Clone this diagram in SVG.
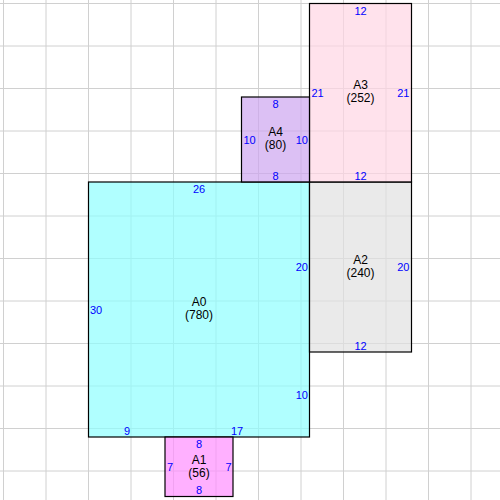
<svg xmlns="http://www.w3.org/2000/svg" width="500" height="500" viewBox="0 0 500 500">
<style>
.grid line{stroke:#d0d0d0;stroke-width:1}
.box{stroke:#000;stroke-width:1.2;fill-opacity:0.7}
.nm{font-family:"Liberation Sans",Arial,sans-serif;font-size:12px;fill:#000;text-anchor:middle}
.ed{font-family:"Liberation Sans",Arial,sans-serif;font-size:11px;fill:#0000ff}
.m{text-anchor:middle}.s{text-anchor:start}.e{text-anchor:end}
</style>
<rect width="500" height="500" fill="#fff"/>
<g class="grid">
<line x1="3.5" y1="0" x2="3.5" y2="500"/><line x1="46" y1="0" x2="46" y2="500"/><line x1="88.5" y1="0" x2="88.5" y2="500"/><line x1="131" y1="0" x2="131" y2="500"/><line x1="173.5" y1="0" x2="173.5" y2="500"/><line x1="216" y1="0" x2="216" y2="500"/><line x1="258.5" y1="0" x2="258.5" y2="500"/><line x1="301" y1="0" x2="301" y2="500"/><line x1="343.5" y1="0" x2="343.5" y2="500"/><line x1="386" y1="0" x2="386" y2="500"/><line x1="428.5" y1="0" x2="428.5" y2="500"/><line x1="471" y1="0" x2="471" y2="500"/>
<line y1="3.5" x1="0" y2="3.5" x2="500"/><line y1="46" x1="0" y2="46" x2="500"/><line y1="88.5" x1="0" y2="88.5" x2="500"/><line y1="131" x1="0" y2="131" x2="500"/><line y1="173.5" x1="0" y2="173.5" x2="500"/><line y1="216" x1="0" y2="216" x2="500"/><line y1="258.5" x1="0" y2="258.5" x2="500"/><line y1="301" x1="0" y2="301" x2="500"/><line y1="343.5" x1="0" y2="343.5" x2="500"/><line y1="386" x1="0" y2="386" x2="500"/><line y1="428.5" x1="0" y2="428.5" x2="500"/><line y1="471" x1="0" y2="471" x2="500"/>
</g>
<g id="A0">
<rect class="box" x="88.5" y="182" width="221" height="255" fill="#8effff"/>
<text class="nm" x="199" y="306">A0</text><text class="nm" x="199" y="319">(780)</text>
<text class="ed m" x="199" y="193">26</text>
<text class="ed s" x="90" y="314">30</text>
<text class="ed e" x="308" y="271">20</text>
<text class="ed e" x="308" y="398.5">10</text>
<text class="ed m" x="127" y="435">9</text>
<text class="ed m" x="237" y="435">17</text>
</g>
<g id="A1">
<rect class="box" x="165" y="437" width="68" height="59.5" fill="#ff8eff"/>
<text class="nm" x="199" y="463.5">A1</text><text class="nm" x="199" y="476.5">(56)</text>
<text class="ed m" x="199" y="447.5">8</text>
<text class="ed s" x="167" y="471">7</text>
<text class="ed e" x="231.5" y="471">7</text>
<text class="ed m" x="199" y="494">8</text>
</g>
<g id="A2">
<rect class="box" x="309.5" y="182" width="102" height="170" fill="#e1e1e1"/>
<text class="nm" x="360.5" y="263.5">A2</text><text class="nm" x="360.5" y="276.5">(240)</text>
<text class="ed e" x="409.5" y="271">20</text>
<text class="ed m" x="360.5" y="350">12</text>
</g>
<g id="A3">
<rect class="box" x="309.5" y="3.5" width="102" height="178.5" fill="#ffd6e4"/>
<text class="nm" x="360.5" y="89">A3</text><text class="nm" x="360.5" y="102">(252)</text>
<text class="ed m" x="360.5" y="14.5">12</text>
<text class="ed s" x="311.5" y="96.5">21</text>
<text class="ed e" x="409.5" y="96.5">21</text>
<text class="ed m" x="360.5" y="180">12</text>
</g>
<g id="A4">
<rect class="box" x="241.5" y="97" width="68" height="85" fill="#cda5ef"/>
<text class="nm" x="275.5" y="136">A4</text><text class="nm" x="275.5" y="149">(80)</text>
<text class="ed m" x="275.5" y="108">8</text>
<text class="ed s" x="243.5" y="143.5">10</text>
<text class="ed e" x="308" y="143.5">10</text>
<text class="ed m" x="275.5" y="180">8</text>
</g>
</svg>
